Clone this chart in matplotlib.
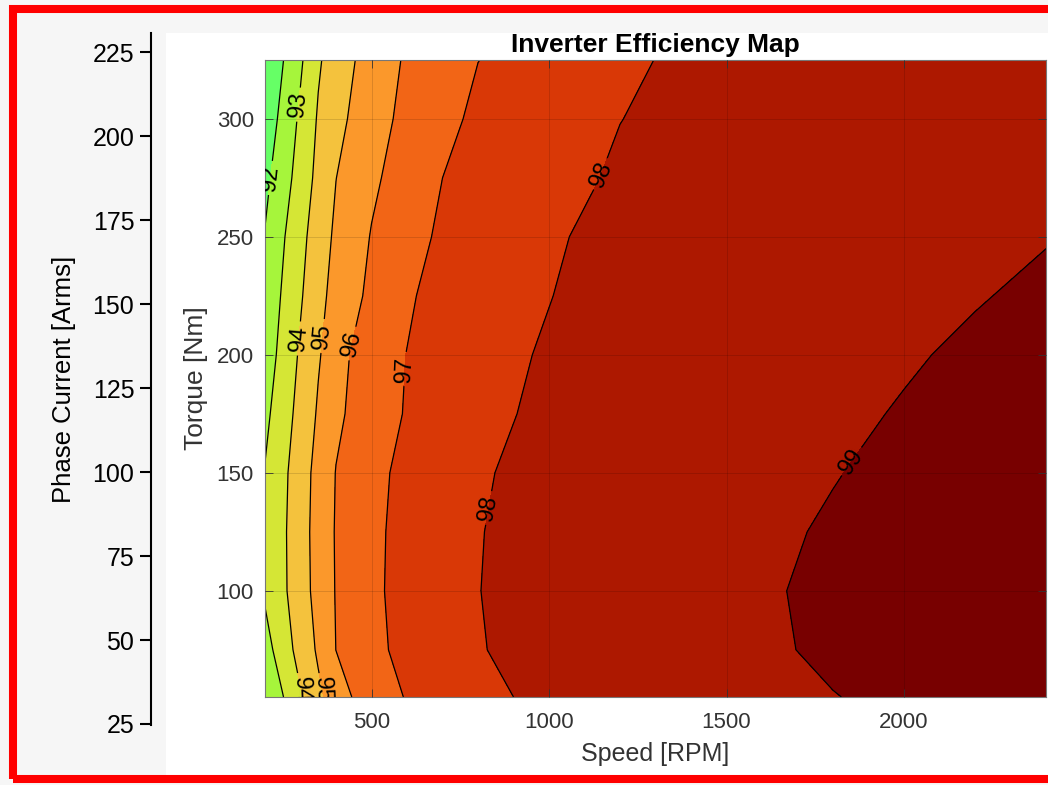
import matplotlib.pyplot as plt
import numpy as np
from matplotlib.patches import Rectangle

plt.rcParams['font.family'] = ['Liberation Sans', 'DejaVu Sans']

# Speed axis [RPM] and torque axis [Nm] of the efficiency table
speed = [200, 250, 300, 350, 400, 500, 600, 800, 1000, 1200, 1400, 1600, 1800, 2000, 2200, 2400]
torque = [55, 75, 100, 125, 150, 175, 200, 225, 250, 275, 300, 325]

# Inverter efficiency [%], one list per torque row
eff_55 = [92.10, 92.96, 93.91, 94.79, 95.48, 96.65, 97.04, 97.89, 98.11, 98.33, 98.54, 98.76, 98.98, 99.15, 99.30, 99.40]
eff_75 = [92.60, 93.51, 94.36, 95.14, 96.01, 96.68, 97.35, 97.97, 98.20, 98.43, 98.66, 98.89, 99.12, 99.30, 99.40, 99.50]
eff_100 = [93.15, 93.82, 94.57, 95.34, 96.05, 96.74, 97.45, 97.99, 98.23, 98.46, 98.69, 98.92, 99.15, 99.35, 99.45, 99.55]
eff_125 = [93.25, 93.84, 94.59, 95.38, 96.07, 96.73, 97.40, 97.98, 98.20, 98.42, 98.64, 98.86, 99.08, 99.30, 99.40, 99.50]
eff_150 = [93.05, 93.77, 94.55, 95.32, 96.03, 96.68, 97.30, 97.95, 98.16, 98.37, 98.56, 98.76, 98.97, 99.17, 99.30, 99.40]
eff_175 = [92.77, 93.55, 94.33, 95.11, 95.82, 96.53, 97.07, 97.89, 98.09, 98.28, 98.47, 98.67, 98.86, 99.05, 99.20, 99.30]
eff_200 = [92.46, 93.31, 94.14, 94.91, 95.54, 96.75, 97.01, 97.87, 98.04, 98.22, 98.40, 98.57, 98.75, 98.93, 99.11, 99.29]
eff_225 = [92.29, 93.10, 93.90, 94.71, 95.33, 96.22, 96.93, 97.46, 97.99, 98.16, 98.32, 98.48, 98.64, 98.80, 98.96, 99.12]
eff_250 = [92.05, 92.90, 93.71, 94.51, 95.17, 96.05, 96.61, 97.74, 97.88, 98.30, 98.45, 98.60, 98.72, 98.82, 98.90, 98.97]
eff_275 = [91.76, 92.56, 93.42, 94.27, 94.99, 95.83, 96.44, 97.56, 97.75, 98.10, 98.30, 98.45, 98.60, 98.70, 98.80, 98.90]
eff_300 = [91.38, 92.27, 93.18, 94.10, 94.71, 95.61, 96.25, 97.20, 97.60, 97.99, 98.20, 98.35, 98.50, 98.60, 98.70, 98.80]
eff_325 = [91.07, 91.96, 92.86, 93.88, 94.49, 95.43, 96.12, 96.99, 97.40, 97.81, 98.21, 98.35, 98.47, 98.57, 98.65, 98.72]

levels = [91, 92, 93, 94, 95, 96, 97, 98, 99, 100]
colours = ['#66ff66', '#a6f53b', '#d5e635', '#f4c23d', '#fb982b',
           '#f26516', '#d93806', '#ad1800', '#780000']

# where the labels sit (speed, torque)
label_spots = [(215, 275), (300, 306), (291, 207), (362, 208), (441, 205),
               (596, 194), (1140, 277), (835, 135), (1851, 155),
               (300, 58), (362, 58)]

# Phase current scale on the left
current_ticks = [25, 50, 75, 100, 125, 150, 175, 200, 225]

W, H = 1048, 785


def box(x0, y0, x1, y1):
    # pixel box -> figure fraction
    return [x0 / W, 1 - y1 / H, (x1 - x0) / W, (y1 - y0) / H]


efficiency = np.array([eff_55, eff_75, eff_100, eff_125, eff_150, eff_175,
                       eff_200, eff_225, eff_250, eff_275, eff_300, eff_325])

fig = plt.figure(figsize=(W / 100, H / 100), dpi=100, facecolor='#f6f6f6')

# white panel and red frame
fig.patches.append(Rectangle((166 / W, 1 - 775 / H), (W - 166) / W, (775 - 33) / H,
                             transform=fig.transFigure, facecolor='white',
                             edgecolor='none', zorder=-1))
fig.patches.append(Rectangle((13 / W, 1 - 779 / H), 1060 / W, 770 / H,
                             transform=fig.transFigure, fill=False,
                             edgecolor='#ff0000', linewidth=5.8, zorder=10))

# Main map
ax = fig.add_axes(box(265, 60, 1046, 697))
ax.contourf(speed, torque, efficiency, levels=levels, colors=colours)
lines = ax.contour(speed, torque, efficiency, levels=levels[1:-1],
                   colors='k', linewidths=0.9)
texts = ax.clabel(lines, fmt='%d', fontsize=17, manual=label_spots, inline=True,
                  inline_spacing=4)
for t in texts:
    # labels at the bottom edge read downwards, as in the original
    if t.get_position()[1] < 70:
        t.set_rotation(-88)

ax.set_xlim(200, 2400)
ax.set_ylim(55, 325)
ax.set_xticks([500, 1000, 1500, 2000])
ax.set_yticks([100, 150, 200, 250, 300])
ax.tick_params(direction='in', top=True, right=True, length=6, width=0.6,
               labelsize=16, labelcolor='#333333', color='#333333')
ax.tick_params(axis='x', pad=11)
ax.tick_params(axis='y', pad=8)
ax.grid(True, color='k', alpha=0.15, linewidth=0.6)
ax.set_axisbelow(False)
for s in ax.spines.values():
    s.set_color('#777777')
    s.set_linewidth(0.8)
ax.set_xlabel('Speed [RPM]', fontsize=18, color='#333333', labelpad=6)
ax.set_ylabel('Torque [Nm]', fontsize=19, color='#333333', labelpad=6)
ax.set_title('Inverter Efficiency Map', fontsize=19, fontweight='bold', pad=6)

# Phase current axis
ax2 = fig.add_axes(box(151, 33, 160, 725))
ax2.patch.set_visible(False)
for side in ['top', 'right', 'bottom']:
    ax2.spines[side].set_visible(False)
ax2.spines['left'].set_linewidth(1.5)
ax2.set_xticks([])
ax2.set_ylim(24.7, 230.8)
ax2.set_yticks(current_ticks)
ax2.tick_params(axis='y', direction='out', length=8, width=1.5, labelsize=18, pad=4)
ax2.set_ylabel('Phase Current [Arms]', fontsize=18.5, labelpad=12)

fig.savefig('out.png', dpi=100, facecolor=fig.get_facecolor())
